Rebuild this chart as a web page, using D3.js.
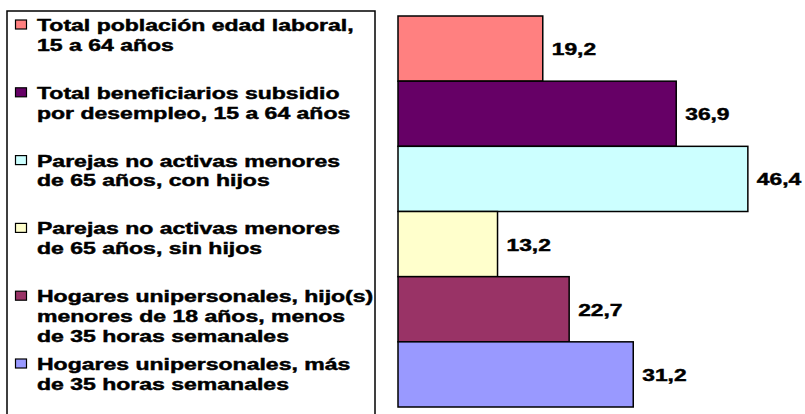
<!DOCTYPE html>
<html>
<head>
<meta charset="utf-8">
<script src="https://cdn.jsdelivr.net/npm/d3@7"></script>
<style>
  html, body { margin: 0; padding: 0; background: #fff; }
  svg { display: block; }
  text { font-family: "Liberation Sans", Arial, sans-serif; font-weight: bold; fill: #000; stroke: #000; stroke-width: 0.45px; }
</style>
</head>
<body>
<svg id="chart" width="805" height="414"></svg>
<script>
// ---- data ----
const categories = [
  "Total población edad laboral,\n15 a 64 años",
  "Total beneficiarios subsidio\npor desempleo, 15 a 64 años",
  "Parejas no activas menores\nde 65 años, con hijos",
  "Parejas no activas menores\nde 65 años, sin hijos",
  "Hogares unipersonales, hijo(s)\nmenores de 18 años, menos\nde 35 horas semanales",
  "Hogares unipersonales, más\nde 35 horas semanales"
];
const values = [19.2, 36.9, 46.4, 13.2, 22.7, 31.2];
const colors = ["#FF8080", "#660066", "#CCFFFF", "#FFFFCC", "#993366", "#9999FF"];

// ---- layout ----
const svg = d3.select("#chart");
const fmt = v => d3.format(".1f")(v).replace(".", ",");
const sx = 1.395;         // horizontal stretch of the original rendering
const fontSize = 16.5;

const x = d3.scaleLinear().domain([0, 50]).range([398, 775]);
const y = d3.scaleBand().domain(d3.range(categories.length)).range([16, 407]).padding(0);

// bars
svg.append("g").selectAll("rect")
  .data(values)
  .join("rect")
  .attr("x", x(0))
  .attr("y", (d, i) => y(i))
  .attr("width", d => x(d) - x(0))
  .attr("height", y.bandwidth())
  .attr("fill", (d, i) => colors[i])
  .attr("stroke", "#000")
  .attr("stroke-width", 1.5);

// value labels
svg.append("g").selectAll("text")
  .data(values)
  .join("text")
  .attr("transform", (d, i) => `translate(${x(d) + 9},${y(i) + y.bandwidth() / 2 + 6.5}) scale(1.38,1)`)
  .attr("font-size", fontSize)
  .text(d => fmt(d));

// legend box
svg.append("rect")
  .attr("x", 7).attr("y", 11)
  .attr("width", 368).attr("height", 420)
  .attr("fill", "none")
  .attr("stroke", "#000")
  .attr("stroke-width", 1.5);

// legend items
const legendY = d3.scaleLinear().domain([0, categories.length - 1]).range([31, 370]);
const lineH = 19.7;
const items = svg.append("g").selectAll("g")
  .data(categories)
  .join("g");

items.append("rect")
  .attr("x", 15.5)
  .attr("y", (d, i) => legendY(i) - 11)
  .attr("width", 11)
  .attr("height", 9)
  .attr("fill", (d, i) => colors[i])
  .attr("stroke", "#000")
  .attr("stroke-width", 1.2);

items.each(function(d, i) {
  const g = d3.select(this);
  d.split("\n").forEach((line, k) => {
    g.append("text")
      .attr("transform", `translate(37,${legendY(i) + k * lineH}) scale(${sx},1)`)
      .attr("font-size", fontSize)
      .text(line);
  });
});
</script>
</body>
</html>
